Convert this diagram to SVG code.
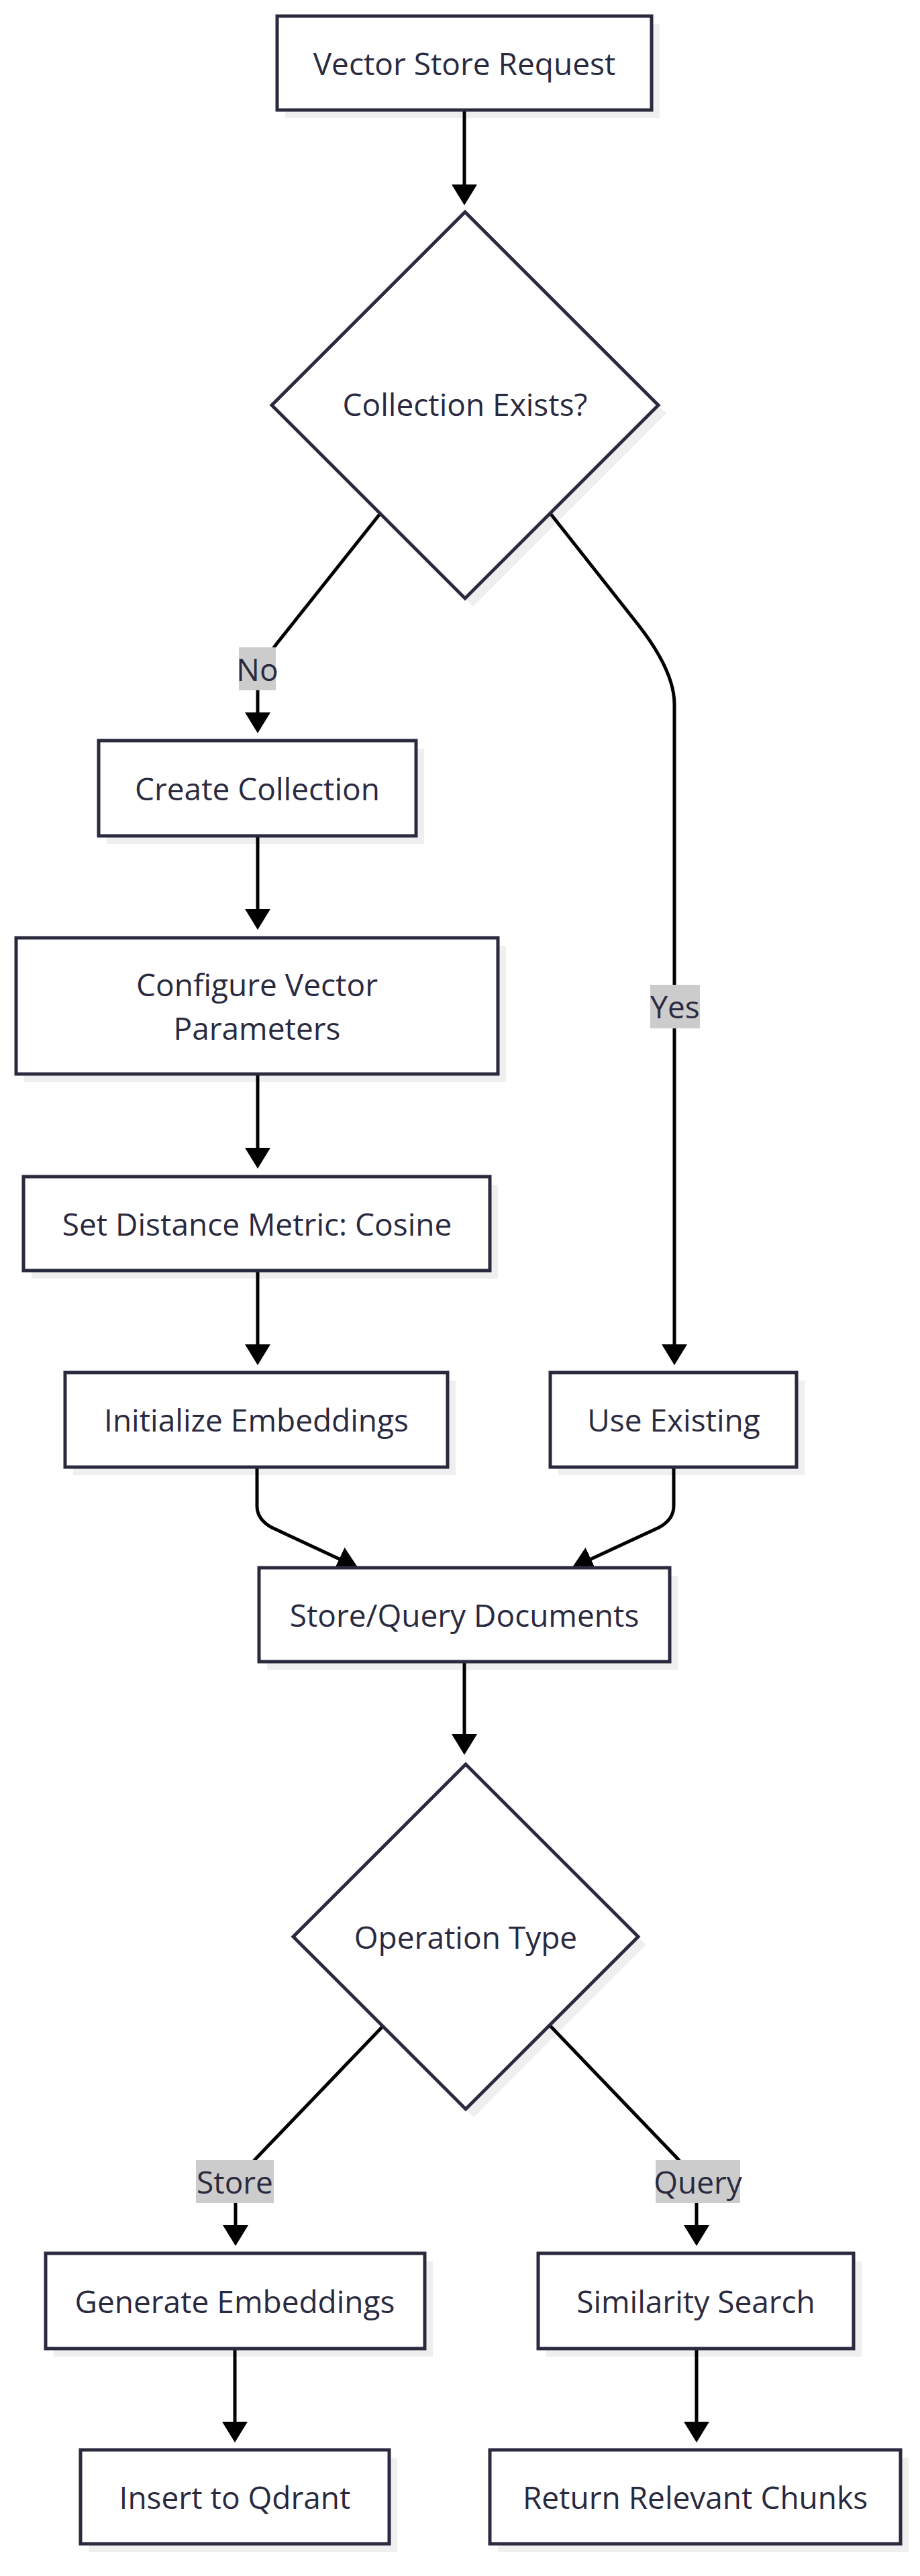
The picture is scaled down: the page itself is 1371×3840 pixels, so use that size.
<svg xmlns="http://www.w3.org/2000/svg" width="1371" height="3840" viewBox="0 0 1371 3840">
<defs>
<marker id="arrow" markerUnits="userSpaceOnUse" markerWidth="31" markerHeight="38" refX="26" refY="19" orient="auto">
<path d="M0,0 L31,19 L0,38 z" fill="#000"/>
</marker>
<style>
.box{fill:#fff;stroke:#2a2a3f;stroke-width:5}
.shadow{fill:#efefef}
.t{font-family:"Open Sans","Noto Sans","Liberation Sans",sans-serif;font-size:46px;fill:#2a2a3f;text-anchor:middle;dominant-baseline:central}
.edge{fill:none;stroke:#000;stroke-width:5;marker-end:url(#arrow)}
.lbl{fill:#cccccc}
</style>
</defs>
<rect width="1371" height="3840" fill="#fff"/>

<g id="shadows">
<rect class="shadow" x="425" y="36" width="558" height="140"/>
<polygon class="shadow" points="705,328 993,616 705,904 417,616"/>
<rect class="shadow" x="159" y="1116" width="473" height="142"/>
<rect class="shadow" x="36" y="1410" width="718" height="203"/>
<rect class="shadow" x="47" y="1766" width="695" height="140"/>
<rect class="shadow" x="109" y="2058" width="570" height="141"/>
<rect class="shadow" x="832" y="2058" width="367" height="141"/>
<rect class="shadow" x="398" y="2349" width="612" height="140"/>
<polygon class="shadow" points="706,2642 963,2899 706,3156 449,2899"/>
<rect class="shadow" x="80" y="3371" width="565" height="142"/>
<rect class="shadow" x="814" y="3371" width="470" height="142"/>
<rect class="shadow" x="132" y="3664" width="460" height="140"/>
<rect class="shadow" x="742" y="3664" width="612" height="140"/>
</g>

<g id="connectors">
<path class="edge" d="M692,164 L692,301"/>
<path class="edge" d="M567,765 L412,960 Q384,996 384,1030 L384,1088"/>
<path class="edge" d="M819,764 L950,930 Q1005,1000 1005,1050 L1005,2030"/>
<path class="edge" d="M384,1246 L384,1381"/>
<path class="edge" d="M384,1601 L384,1737"/>
<path class="edge" d="M384,1894 L384,2030"/>
<path class="edge" d="M383,2187 L383,2245 Q383,2265 405,2277 L529,2335"/>
<path class="edge" d="M1004,2187 L1004,2245 Q1004,2265 982,2277 L857,2335"/>
<path class="edge" d="M692,2477 L692,2611"/>
<path class="edge" d="M571,3020 L383,3216 Q351,3250 351,3280 L351,3343"/>
<path class="edge" d="M820,3020 L1008,3216 Q1038,3250 1038,3280 L1038,3343"/>
<path class="edge" d="M350,3501 L350,3636"/>
<path class="edge" d="M1038,3501 L1038,3636"/>
</g>

<g id="edge-labels">
<g id="label-no"><rect class="lbl" x="356" y="965" width="55" height="64"/><text class="t" x="383.5" y="997">No</text></g>
<g id="label-yes"><rect class="lbl" x="969" y="1468" width="74" height="65"/><text class="t" x="1006" y="1500">Yes</text></g>
<g id="label-store"><rect class="lbl" x="292" y="3220" width="116" height="64"/><text class="t" x="350" y="3252">Store</text></g>
<g id="label-query"><rect class="lbl" x="977" y="3220" width="126" height="64"/><text class="t" x="1040" y="3252">Query</text></g>
</g>

<g id="vector-store-request">
<rect class="box" x="413" y="24" width="558" height="140"/>
<text class="t" x="692" y="94">Vector Store Request</text>
</g>

<g id="collection-exists">
<polygon class="box" points="693,316 981,604 693,892 405,604"/>
<text class="t" x="693" y="602">Collection Exists?</text>
</g>

<g id="create-collection">
<rect class="box" x="147" y="1104" width="473" height="142"/>
<text class="t" x="383.5" y="1175">Create Collection</text>
</g>

<g id="configure-vector-parameters">
<rect class="box" x="24" y="1398" width="718" height="203"/>
<text class="t" x="383" y="1467">Configure Vector</text>
<text class="t" x="383" y="1532">Parameters</text>
</g>

<g id="set-distance-metric">
<rect class="box" x="35" y="1754" width="695" height="140"/>
<text class="t" x="383" y="1824">Set Distance Metric: Cosine</text>
</g>

<g id="initialize-embeddings">
<rect class="box" x="97" y="2046" width="570" height="141"/>
<text class="t" x="382" y="2116">Initialize Embeddings</text>
</g>

<g id="use-existing">
<rect class="box" x="820" y="2046" width="367" height="141"/>
<text class="t" x="1004" y="2116">Use Existing</text>
</g>

<g id="store-query-documents">
<rect class="box" x="386" y="2337" width="612" height="140"/>
<text class="t" x="692" y="2407">Store/Query Documents</text>
</g>

<g id="operation-type">
<polygon class="box" points="694,2630 951,2887 694,3144 437,2887"/>
<text class="t" x="694" y="2887">Operation Type</text>
</g>

<g id="generate-embeddings">
<rect class="box" x="68" y="3359" width="565" height="142"/>
<text class="t" x="350" y="3430">Generate Embeddings</text>
</g>

<g id="similarity-search">
<rect class="box" x="802" y="3359" width="470" height="142"/>
<text class="t" x="1037" y="3430">Similarity Search</text>
</g>

<g id="insert-to-qdrant">
<rect class="box" x="120" y="3652" width="460" height="140"/>
<text class="t" x="350" y="3722">Insert to Qdrant</text>
</g>

<g id="return-relevant-chunks">
<rect class="box" x="730" y="3652" width="612" height="140"/>
<text class="t" x="1036" y="3722">Return Relevant Chunks</text>
</g>
</svg>
